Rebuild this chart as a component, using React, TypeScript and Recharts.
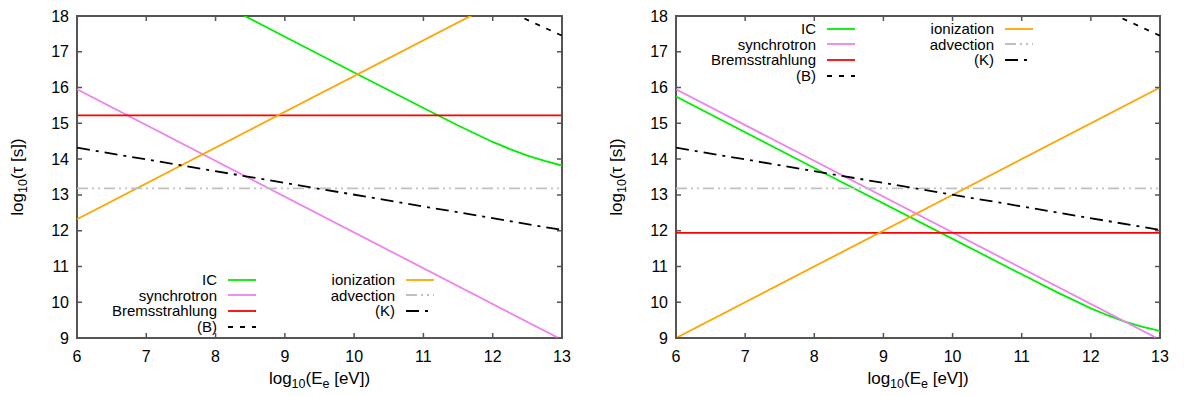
import React from "react";
import { LineChart, Line, XAxis, YAxis, Legend, Label, ReferenceArea } from "recharts";

const X_TICKS = [6, 7, 8, 9, 10, 11, 12, 13];
const Y_TICKS = [9, 10, 11, 12, 13, 14, 15, 16, 17, 18];

// log10(E_e) grids and log10(tau) values
const E_ENDS = [6, 13];
const IC_E_LEFT = [8, 9, 10, 11, 11.5, 12, 12.25, 12.5, 12.75, 13];
const IC_TAU_LEFT = [18.42, 17.42, 16.42, 15.43, 14.94, 14.48, 14.28, 14.1, 13.95, 13.82];
const IC_E_RIGHT = [6, 8, 10, 11, 11.5, 12, 12.25, 12.5, 12.75, 13];
const IC_TAU_RIGHT = [15.75, 13.75, 11.77, 10.78, 10.29, 9.83, 9.63, 9.45, 9.31, 9.2];
const SYNC_TAU = [15.95, 8.95];
const BREMS_TAU_LEFT = [15.22, 15.22];
const BREMS_TAU_RIGHT = [11.94, 11.94];
const ION_TAU_LEFT = [12.32, 19.32];
const ION_TAU_RIGHT = [9.0, 16.0];
const ADV_TAU = [13.18, 13.18];
const K_TAU = [14.32, 12.02];
const B_E = [12.3, 13];
const B_TAU = [18.07, 17.45];

const FONT = '"Liberation Sans", Arial, Helvetica, sans-serif';
const INK = "#000000";
const FRAME = "#555555";
const W = 592;
const H = 396;
const TOP = 16;
const BOTTOM = 338;
const Y_AXIS_W = 77;
const TICK = 5;

type Series = { name: string; color: string; dash?: string; data: { e: number; tau: number }[] };

const pts = (xs: number[], ys: number[]) => xs.map((e, i) => ({ e, tau: ys[i] }));

function makeSeries(icE: number[], icTau: number[], brems: number[], ion: number[]): Series[] {
  return [
    { name: "IC", color: "#00ee00", data: pts(icE, icTau) },
    { name: "synchrotron", color: "#ee82ee", data: pts(E_ENDS, SYNC_TAU) },
    { name: "Bremsstrahlung", color: "#ff0000", data: pts(E_ENDS, brems) },
    { name: "(B)", color: INK, dash: "5 7", data: pts(B_E, B_TAU) },
    { name: "ionization", color: "#ffa500", data: pts(E_ENDS, ion) },
    { name: "advection", color: "#c0c0c0", dash: "11 4 2 4 2 4", data: pts(E_ENDS, ADV_TAU) },
    { name: "(K)", color: INK, dash: "13 6 3 6", data: pts(E_ENDS, K_TAU) },
  ];
}

const LEFT_SERIES = makeSeries(IC_E_LEFT, IC_TAU_LEFT, BREMS_TAU_LEFT, ION_TAU_LEFT);
const RIGHT_SERIES = makeSeries(IC_E_RIGHT, IC_TAU_RIGHT, BREMS_TAU_RIGHT, ION_TAU_RIGHT);

function KeyBox({ series }: { series: Series[] }) {
  const cols = [series.slice(0, 4), series.slice(4)];
  return (
    <div style={{ display: "flex", gap: 19, fontSize: 15, fontFamily: FONT, color: INK }}>
      {cols.map((col, ci) => (
        <div key={ci}>
          {col.map((s) => (
            <div key={s.name} style={{ display: "flex", alignItems: "center", height: 15.6 }}>
              <span style={{ width: 120, textAlign: "right", whiteSpace: "nowrap" }}>{s.name}</span>
              <svg width={28} height={6} style={{ marginLeft: 11 }}>
                <path d="M0 3H28" stroke={s.color} strokeWidth={1.8} strokeDasharray={s.dash} />
              </svg>
            </div>
          ))}
        </div>
      ))}
    </div>
  );
}

const XTitle = (props: any) => {
  const { x, width } = props.viewBox;
  return (
    <text x={x + width / 2} y={BOTTOM + 46} textAnchor="middle" fontSize={17} fontFamily={FONT} fill={INK}>
      log<tspan dy={4} fontSize={12.5}>10</tspan>
      <tspan dy={-4}>(E</tspan>
      <tspan dy={4} fontSize={12.5}>e</tspan>
      <tspan dy={-4}> [eV])</tspan>
    </text>
  );
};

const YTitle = (props: any) => {
  const { x, width } = props.viewBox;
  const cx = x + width - 54;
  const cy = (TOP + BOTTOM) / 2;
  return (
    <text x={cx} y={cy} transform={`rotate(-90 ${cx} ${cy})`} textAnchor="middle" fontSize={17} fontFamily={FONT} fill={INK}>
      log<tspan dy={4} fontSize={12.5}>10</tspan>
      <tspan dy={-4}>(τ [s])</tspan>
    </text>
  );
};

// gnuplot-style ticks: pointing inward, mirrored on the opposite side
const xTick = (props: any) => {
  const { x, payload } = props;
  return (
    <g>
      <path d={`M${x} ${BOTTOM}V${BOTTOM - TICK}M${x} ${TOP}V${TOP + TICK}`} stroke={FRAME} strokeWidth={1.5} fill="none" />
      <text x={x} y={BOTTOM + 24} textAnchor="middle" fontSize={16} fontFamily={FONT} fill={INK}>
        {payload.value}
      </text>
    </g>
  );
};

const makeYTick = (left: number, right: number) => (props: any) => {
  const { y, payload } = props;
  return (
    <g>
      <path d={`M${left} ${y}H${left + TICK}M${right} ${y}H${right - TICK}`} stroke={FRAME} strokeWidth={1.5} fill="none" />
      <text x={left - 8} y={y + 5.6} textAnchor="end" fontSize={16} fontFamily={FONT} fill={INK}>
        {payload.value}
      </text>
    </g>
  );
};

function Panel({ series, marginLeft, marginRight, legendTop }: { series: Series[]; marginLeft: number; marginRight: number; legendTop: number }) {
  const left = marginLeft + Y_AXIS_W;
  const right = W - marginRight;
  return (
    <LineChart width={W} height={H} margin={{ top: TOP, right: marginRight, bottom: 0, left: marginLeft }}>
      <XAxis
        dataKey="e"
        type="number"
        domain={[6, 13]}
        ticks={X_TICKS}
        allowDataOverflow
        height={H - BOTTOM}
        axisLine={false}
        tickLine={false}
        tick={xTick}
        interval={0}
      >
        <Label content={XTitle} />
      </XAxis>
      <YAxis
        type="number"
        domain={[9, 18]}
        ticks={Y_TICKS}
        allowDataOverflow
        width={Y_AXIS_W}
        axisLine={false}
        tickLine={false}
        tick={makeYTick(left, right)}
        interval={0}
      >
        <Label content={YTitle} />
      </YAxis>
      {series.map((s) => (
        <Line
          key={s.name}
          name={s.name}
          data={s.data}
          dataKey="tau"
          type="linear"
          stroke={s.color}
          strokeWidth={1.8}
          strokeDasharray={s.dash}
          dot={false}
          activeDot={false}
          isAnimationActive={false}
        />
      ))}
      {/* plot frame */}
      <ReferenceArea x1={6} x2={13} y1={9} y2={18} fill="#ffffff" fillOpacity={0} stroke={FRAME} strokeWidth={2} ifOverflow="visible" />
      <Legend
        layout="vertical"
        align="center"
        verticalAlign="middle"
        wrapperStyle={{ left: left + 20, top: legendTop, width: "auto", height: "auto" }}
        content={() => <KeyBox series={series} />}
      />
    </LineChart>
  );
}

export default function App() {
  return (
    <div style={{ position: "absolute", left: 0, top: 0, width: 1184, height: 396, display: "flex", background: "#ffffff", fontFamily: FONT }}>
      <Panel series={LEFT_SERIES} marginLeft={0} marginRight={30} legendTop={272} />
      <Panel series={RIGHT_SERIES} marginLeft={7} marginRight={24} legendTop={21} />
    </div>
  );
}
